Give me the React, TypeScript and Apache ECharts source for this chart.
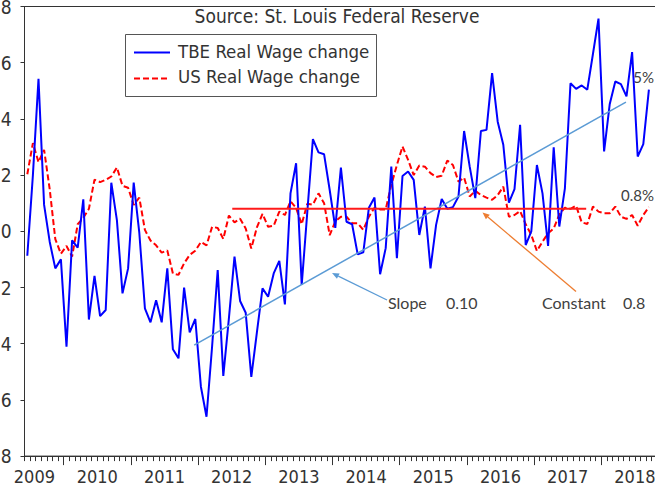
import React, { useEffect, useRef } from "react";
import * as echarts from "echarts";

// Monthly categories: Jun 2009 .. Nov 2018 (data runs to Sep 2018)
const START_YEAR = 2009;
const START_MONTH = 6;
const N_CATS = 114;
const months: string[] = [];
for (let k = 0; k < N_CATS; k++) {
  const m0 = START_MONTH - 1 + k;
  months.push(`${START_YEAR + Math.floor(m0 / 12)}-${String((m0 % 12) + 1).padStart(2, "0")}`);
}

const seriesNames = ["TBE Real Wage change", "US Real Wage change"];

const tbeRealWage = [
  -0.87, 2.0, 5.43, 0.94, -0.37, -1.32, -1.0, -4.11, -0.32, -0.58,
  1.14, -3.14, -1.59, -3.02, -2.8, 1.73, 0.4, -2.21, -1.32, 1.73,
  -0.05, -2.74, -3.24, -2.45, -3.24, -1.32, -4.2, -4.52, -2.0, -3.6,
  -3.12, -5.53, -6.6, -4.1, -1.38, -5.15, -3.1, -0.9, -2.48, -2.9,
  -5.18, -3.6, -2.03, -2.33, -1.5, -1.05, -2.6, 1.35, 2.42, -1.91,
  0.68, 3.28, 2.81, 2.74, 1.47, 0.12, 2.27, 0.34, 0.25, -0.82,
  -0.75, 0.84, 1.2, -1.53, -0.6, 2.3, -0.96, 1.97, 2.13, 1.83,
  -0.13, 0.88, -1.32, 0.23, 1.15, 0.8, 0.86, 1.24, 3.57, 2.3,
  1.18, 3.57, 3.61, 5.63, 3.9, 3.08, 1.02, 1.5, 3.79, -0.49,
  0.0, 2.36, 1.35, -0.52, 2.99, 0.17, 1.53, 5.27, 5.07, 5.19,
  5.04, 6.3, 7.57, 2.84, 4.52, 5.33, 5.24, 4.8, 6.38, 2.66,
  3.1, 5.04,
];

const usRealWage = [
  2.03, 3.14, 2.46, 2.9, 1.5, -0.28, -0.8, -0.52, -0.9, 0.25,
  0.48, 0.8, 1.84, 1.75, 1.83, 1.95, 2.27, 1.62, 1.55, 0.94,
  1.2, 0.05, -0.33, -0.5, -0.76, -0.68, -1.5, -1.55, -1.14, -0.84,
  -0.69, -0.38, -0.5, 0.16, 0.12, -0.27, 0.56, 0.32, 0.45, 0.1,
  -0.61, 0.14, 0.62, 0.16, 0.2, 0.7, 0.58, 1.07, 0.83, 0.25,
  0.98, 0.95, 1.35, 1.0, -0.14, 0.35, 0.52, 0.52, 0.29, 0.29,
  0.05, 0.52, 0.84, 0.78, 0.78, 1.65, 2.36, 3.02, 2.54, 2.0,
  2.34, 2.3, 2.07, 1.93, 1.98, 2.52, 2.36, 1.77, 1.91, 1.24,
  1.44, 1.29, 1.2, 1.12, 1.29, 1.59, 0.52, 0.58, 0.72, 0.25,
  -0.13, -0.7, -0.37, -0.07, 0.1, 0.6, 0.84, 0.8, 0.91, 0.32,
  0.26, 0.88, 0.7, 0.64, 0.64, 0.88, 0.52, 0.44, 0.58, 0.2,
  0.58, 0.86,
];

// Fitted lines (month index, value)
const trendX = [29.8, 106.9];
const trendY = [-4.05, 4.6];
const constX = [36.6, 99.8];
const constY = [0.8, 0.8];

const NARROW = "'DejaVu Sans Condensed', 'Liberation Sans Narrow', sans-serif";
const CALI = "Lato, 'Open Sans', sans-serif";
const BLUE = "#0000ff";
const RED = "#ff0000";

function arrow(x1: number, y1: number, x2: number, y2: number, color: string) {
  const dx = x2 - x1, dy = y2 - y1;
  const len = Math.sqrt(dx * dx + dy * dy);
  const ux = dx / len, uy = dy / len;
  const hl = 7, hw = 3;
  const bx = x2 - ux * hl, by = y2 - uy * hl;
  const nx = -uy, ny = ux;
  return [
    { type: "line", silent: true, shape: { x1, y1, x2: bx, y2: by }, style: { stroke: color, lineWidth: 1.3 } },
    {
      type: "polygon",
      silent: true,
      shape: { points: [[x2, y2], [bx + nx * hw, by + ny * hw], [bx - nx * hw, by - ny * hw]] },
      style: { fill: color },
    },
  ];
}

export default function App() {
  const ref = useRef<HTMLDivElement>(null);
  useEffect(() => {
    if (!ref.current) return;
    const chart = echarts.init(ref.current, undefined, { renderer: "svg" });
    const axisColor = "#333";
    const option: any = {
      animation: false,
      grid: {
        left: 24.5,
        top: 6.5,
        width: N_CATS * 5.6,
        height: 449.6,
        show: true,
        borderColor: axisColor,
        borderWidth: 1,
        outerBoundsMode: "none",
        containLabel: false,
      },
      xAxis: [
        {
          type: "category",
          data: months,
          position: "bottom",
          boundaryGap: true,
          axisLine: { show: true, onZero: false, lineStyle: { color: axisColor, width: 1 } },
          axisTick: { show: true, interval: 0, length: 5, lineStyle: { color: axisColor } },
          axisLabel: { show: false },
          splitLine: { show: false },
        },
        {
          type: "category",
          data: months,
          position: "bottom",
          boundaryGap: true,
          axisLine: { show: false, onZero: false },
          axisTick: {
            show: true,
            interval: (_i: number, v: string) => v.endsWith("-01"),
            length: 9,
            lineStyle: { color: axisColor },
          },
          axisLabel: {
            show: true,
            interval: (_i: number, v: string) => v.endsWith("-07"),
            formatter: (v: string) => {
              const y = v.slice(0, 4);
              return y === "2009" ? `{a|${y}}` : `{b|${y}}`;
            },
            margin: 11,
            rich: {
              a: { fontFamily: NARROW, fontSize: 18, color: "#333", padding: [0, 0, 0, 3] },
              b: { fontFamily: NARROW, fontSize: 18, color: "#333", padding: [0, 5.6, 0, 0] },
            },
          },
          splitLine: { show: false },
        },
        { type: "value", min: -0.5, max: N_CATS - 0.5, show: false },
      ],
      yAxis: {
        type: "value",
        min: -8,
        max: 8,
        interval: 2,
        axisLine: { show: true, onZero: false, lineStyle: { color: axisColor, width: 1 } },
        axisTick: { show: true, length: 4, lineStyle: { color: axisColor } },
        axisLabel: {
          margin: 13,
          fontFamily: NARROW,
          fontSize: 19,
          color: "#333",
          formatter: (v: number) => String(Math.abs(v)),
        },
        splitLine: { show: false },
      },
      series: [
        {
          name: seriesNames[0],
          type: "line",
          data: tbeRealWage,
          xAxisIndex: 0,
          symbol: "none",
          lineStyle: { color: BLUE, width: 2 },
          itemStyle: { color: BLUE },
          z: 3,
        },
        {
          name: seriesNames[1],
          type: "line",
          data: usRealWage,
          xAxisIndex: 0,
          symbol: "none",
          lineStyle: { color: RED, width: 2, type: [6, 3] },
          itemStyle: { color: RED },
          z: 2,
        },
        {
          name: "Slope",
          type: "line",
          xAxisIndex: 2,
          data: trendX.map((x, i) => [x, trendY[i]]),
          symbol: "none",
          lineStyle: { color: "#5b9bd5", width: 1.5 },
          silent: true,
          z: 4,
        },
        {
          name: "Constant",
          type: "line",
          xAxisIndex: 2,
          data: constX.map((x, i) => [x, constY[i]]),
          symbol: "none",
          lineStyle: { color: "#ff1a1a", width: 2 },
          silent: true,
          z: 4,
        },
      ],
      graphic: [
        {
          type: "text",
          x: 337,
          y: 15.5,
          style: {
            text: "Source: St. Louis Federal Reserve",
            fontFamily: NARROW,
            fontSize: 19,
            fill: "#333",
            align: "center",
            verticalAlign: "middle",
          },
        },
        // legend box
        {
          type: "rect",
          silent: true,
          shape: { x: 125.5, y: 34.5, width: 251, height: 62 },
          style: { fill: "#fff", stroke: "#555", lineWidth: 1 },
          z: 10,
        },
        { type: "line", silent: true, z: 11, shape: { x1: 134, y1: 52.5, x2: 170, y2: 52.5 }, style: { stroke: BLUE, lineWidth: 2 } },
        { type: "line", silent: true, z: 11, shape: { x1: 134, y1: 78.5, x2: 170, y2: 78.5 }, style: { stroke: RED, lineWidth: 2, lineDash: [6, 3] } },
        {
          type: "text", z: 11, x: 178, y: 51,
          style: { text: seriesNames[0], fontFamily: NARROW, fontSize: 18.5, fill: "#333", verticalAlign: "middle" },
        },
        {
          type: "text", z: 11, x: 178, y: 76.5,
          style: { text: seriesNames[1], fontFamily: NARROW, fontSize: 18.5, fill: "#333", verticalAlign: "middle" },
        },
        { type: "text", x: 388, y: 302, style: { text: "Slope", fontFamily: CALI, fontSize: 16, fill: "#404040", verticalAlign: "middle" } },
        { type: "text", x: 446, y: 302, style: { text: "0.10", fontFamily: CALI, fontSize: 16, fill: "#404040", verticalAlign: "middle" } },
        { type: "text", x: 542, y: 302, style: { text: "Constant", fontFamily: CALI, fontSize: 16, fill: "#404040", verticalAlign: "middle" } },
        { type: "text", x: 623, y: 302, style: { text: "0.8", fontFamily: CALI, fontSize: 16, fill: "#404040", verticalAlign: "middle" } },
        { type: "text", x: 654, y: 77, style: { text: "5%", fontFamily: CALI, fontSize: 15, fill: "#404040", align: "right", verticalAlign: "middle" } },
        { type: "text", x: 654, y: 195, style: { text: "0.8%", fontFamily: CALI, fontSize: 15, fill: "#404040", align: "right", verticalAlign: "middle" } },
        ...arrow(387, 300, 332, 273, "#5b9bd5"),
        ...arrow(576, 291.5, 482.5, 212.5, "#ed7d31"),
      ],
    };
    chart.setOption(option);
    return () => chart.dispose();
  }, []);
  return <div ref={ref} style={{ position: "absolute", left: 0, top: 0, width: 655, height: 495 }} />;
}
